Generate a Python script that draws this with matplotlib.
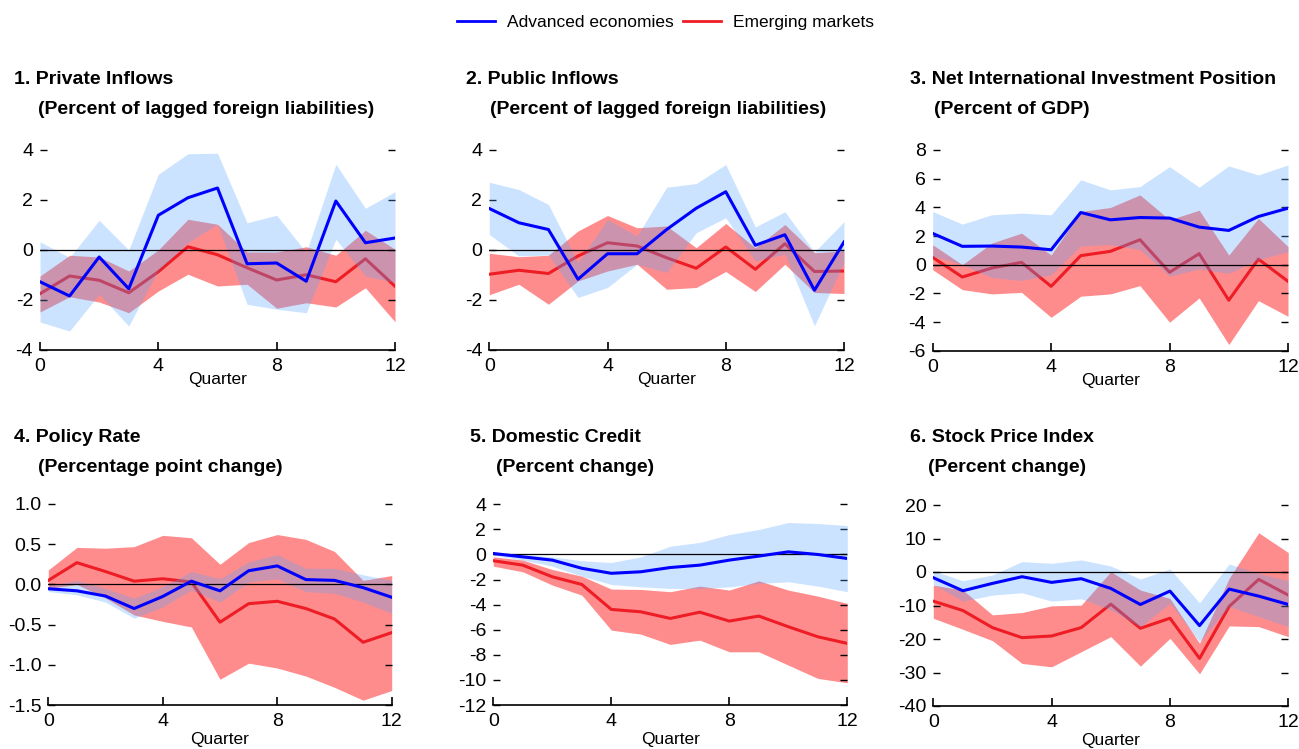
import matplotlib
matplotlib.use('Agg')
import matplotlib.pyplot as plt
from matplotlib.lines import Line2D
from matplotlib.ticker import FuncFormatter

plt.rcParams['font.family'] = ['Liberation Sans', 'DejaVu Sans']
plt.rcParams['axes.unicode_minus'] = False

# ---------------- data ----------------
quarters = list(range(13))
xticks = [0, 4, 8, 12]

# Panel 1: Private inflows
p1_ae = [-1.27, -1.84, -0.28, -1.55, 1.39, 2.09, 2.48, -0.55, -0.52, -1.25, 1.96, 0.29, 0.48]
p1_ae_hi = [0.33, -0.3, 1.19, 0.0, 3.03, 3.85, 3.87, 1.09, 1.39, -0.1, 3.43, 1.67, 2.33]
p1_ae_lo = [-2.88, -3.24, -1.77, -3.04, -0.8, 0.3, 1.03, -2.17, -2.37, -2.51, 0.43, -1.04, -1.3]
p1_em = [-1.75, -1.04, -1.21, -1.71, -0.87, 0.13, -0.19, -0.71, -1.2, -0.99, -1.27, -0.35, -1.45]
p1_em_hi = [-1.04, -0.21, -0.28, -0.84, 0.0, 1.23, 1.03, -0.08, -0.08, 0.13, -0.21, 0.79, 0.03]
p1_em_lo = [-2.48, -1.87, -2.08, -2.51, -1.64, -0.97, -1.44, -1.37, -2.33, -2.11, -2.28, -1.51, -2.87]

# Panel 2: Public inflows
p2_ae = [1.66, 1.09, 0.82, -1.17, -0.15, -0.15, 0.82, 1.67, 2.33, 0.19, 0.61, -1.61, 0.32]
p2_ae_hi = [2.71, 2.42, 1.82, -0.5, 1.22, 0.56, 2.51, 2.66, 3.42, 0.92, 1.53, -0.08, 1.13]
p2_ae_lo = [0.62, -0.24, -0.2, -1.9, -1.5, -0.57, -0.9, 0.69, 1.29, -0.44, -0.17, -3.03, -0.5]
p2_em = [-0.97, -0.81, -0.94, -0.24, 0.29, 0.16, -0.31, -0.73, 0.12, -0.77, 0.25, -0.86, -0.84]
p2_em_hi = [-0.13, -0.27, -0.21, 0.76, 1.38, 0.89, 0.96, 0.09, 1.06, 0.09, 1.02, -0.11, -0.04]
p2_em_lo = [-1.79, -1.37, -2.17, -1.24, -0.84, -0.57, -1.57, -1.5, -0.86, -1.66, -0.57, -1.7, -1.74]

# Panel 3: Net international investment position
p3_ae = [2.18, 1.28, 1.3, 1.23, 1.04, 3.64, 3.13, 3.29, 3.25, 2.62, 2.39, 3.36, 3.94]
p3_ae_hi = [3.71, 2.83, 3.48, 3.6, 3.48, 5.92, 5.22, 5.45, 6.84, 5.41, 6.89, 6.26, 6.96]
p3_ae_lo = [0.6, 0.0, -0.9, -1.1, -0.7, 1.3, 1.4, 1.05, -0.8, -0.3, -0.6, 0.35, 0.9]
p3_em = [0.51, -0.86, -0.23, 0.16, -1.51, 0.63, 0.93, 1.74, -0.53, 0.77, -2.48, 0.39, -1.16]
p3_em_hi = [1.39, 0.0, 1.51, 2.2, 0.67, 3.71, 3.99, 4.87, 3.13, 3.8, 0.67, 3.23, 1.26]
p3_em_lo = [-0.35, -1.74, -2.04, -1.93, -3.67, -2.2, -2.04, -1.46, -4.01, -2.32, -5.57, -2.51, -3.6]

# Panel 4: Policy rate
p4_ae = [-0.054, -0.08, -0.145, -0.3, -0.15, 0.04, -0.08, 0.17, 0.23, 0.06, 0.05, -0.04, -0.16]
p4_ae_hi = [-0.02, 0.05, -0.05, -0.17, -0.03, 0.16, 0.07, 0.28, 0.37, 0.2, 0.2, 0.12, 0.05]
p4_ae_lo = [-0.09, -0.13, -0.22, -0.42, -0.28, -0.07, -0.22, 0.03, 0.07, -0.09, -0.11, -0.22, -0.36]
p4_em = [0.05, 0.27, 0.16, 0.04, 0.07, 0.03, -0.47, -0.24, -0.21, -0.3, -0.43, -0.72, -0.6]
p4_em_hi = [0.18, 0.46, 0.45, 0.47, 0.61, 0.58, 0.25, 0.52, 0.62, 0.56, 0.41, 0.05, 0.11]
p4_em_lo = [-0.05, 0.0, -0.17, -0.38, -0.46, -0.53, -1.18, -0.98, -1.04, -1.14, -1.28, -1.44, -1.32]

# Panel 5: Domestic credit
p5_ae = [0.08, -0.19, -0.45, -1.1, -1.5, -1.38, -1.04, -0.85, -0.45, -0.13, 0.21, 0.0, -0.32]
p5_ae_hi = [0.13, 0.0, -0.19, -0.5, -0.64, -0.19, 0.66, 0.96, 1.59, 1.99, 2.55, 2.47, 2.31]
p5_ae_lo = [-0.05, -0.45, -0.93, -1.73, -2.39, -2.58, -2.71, -2.71, -2.58, -2.31, -2.18, -2.52, -2.97]
p5_em = [-0.5, -0.85, -1.78, -2.39, -4.38, -4.57, -5.1, -4.6, -5.31, -4.91, -5.76, -6.56, -7.09]
p5_em_hi = [-0.19, -0.45, -1.2, -1.73, -2.76, -2.79, -2.97, -2.52, -2.84, -2.1, -2.84, -3.32, -3.9]
p5_em_lo = [-0.93, -1.38, -2.44, -3.24, -6.03, -6.35, -7.17, -6.83, -7.76, -7.76, -8.82, -9.88, -10.23]

# Panel 6: Stock price index
p6_ae = [-1.7, -5.6, -3.4, -1.4, -3.1, -2.0, -4.9, -9.7, -5.7, -16.0, -5.1, -7.2, -9.7]
p6_ae_hi = [0.3, -2.6, -0.9, 3.1, 2.6, 3.6, 1.8, -2.1, 0.9, -9.2, 2.4, -0.4, -2.6]
p6_ae_lo = [-3.7, -8.7, -6.9, -6.2, -8.7, -8.0, -11.3, -16.3, -9.4, -20.8, -10.3, -13.3, -16.3]
p6_em = [-8.7, -11.5, -16.6, -19.6, -19.1, -16.6, -9.6, -16.8, -13.8, -25.8, -10.3, -2.2, -6.9]
p6_em_hi = [-3.9, -5.4, -12.8, -12.1, -10.1, -9.9, 0.1, -5.4, -7.9, -21.3, -1.9, 11.7, 5.8]
p6_em_lo = [-13.8, -17.1, -20.5, -27.3, -28.3, -23.8, -19.3, -28.1, -19.8, -30.4, -16.1, -16.3, -19.3]

titles = [
    ("1. Private Inflows", "(Percent of lagged foreign liabilities)"),
    ("2. Public Inflows", "(Percent of lagged foreign liabilities)"),
    ("3. Net International Investment Position", "(Percent of GDP)"),
    ("4. Policy Rate", "(Percentage point change)"),
    ("5. Domestic Credit", "(Percent change)"),
    ("6. Stock Price Index", "(Percent change)"),
]
series_names = ["Advanced economies", "Emerging markets"]

panels = [
    (p1_ae, p1_ae_lo, p1_ae_hi, p1_em, p1_em_lo, p1_em_hi),
    (p2_ae, p2_ae_lo, p2_ae_hi, p2_em, p2_em_lo, p2_em_hi),
    (p3_ae, p3_ae_lo, p3_ae_hi, p3_em, p3_em_lo, p3_em_hi),
    (p4_ae, p4_ae_lo, p4_ae_hi, p4_em, p4_em_lo, p4_em_hi),
    (p5_ae, p5_ae_lo, p5_ae_hi, p5_em, p5_em_lo, p5_em_hi),
    (p6_ae, p6_ae_lo, p6_ae_hi, p6_em, p6_em_lo, p6_em_hi),
]
ylims = [(-4, 4), (-4, 4), (-6, 8), (-1.5, 1.0), (-12, 4), (-40, 20)]
yticks = [
    [-4, -2, 0, 2, 4],
    [-4, -2, 0, 2, 4],
    [-6, -4, -2, 0, 2, 4, 6, 8],
    [-1.5, -1.0, -0.5, 0.0, 0.5, 1.0],
    [-12, -10, -8, -6, -4, -2, 0, 2, 4],
    [-40, -30, -20, -10, 0, 10, 20],
]
yfmt = ['%d', '%d', '%d', '%.1f', '%d', '%d']

# ---------------- layout (pixels) ----------------
W, H = 1299, 749
boxes = [(40, 395, 150, 350), (489.3, 844, 150, 350), (932.7, 1288, 150, 350.7),
         (48.3, 391.7, 504, 705), (493.3, 847.3, 504.3, 705), (933.3, 1288.3, 505, 706)]
title_pos = [(14, 38, 80, 110), (466, 490, 80, 110), (910, 934, 80, 110),
             (14, 38, 437, 467), (470, 496, 437, 467), (910, 928, 437, 467)]

AE_COL = '#0000ff'
EM_COL = '#ee1c25'
EM_BAND = '#ff8c8c'
AE_BAND = '#55a5ff'

fig = plt.figure(figsize=(W / 100, H / 100), dpi=100)

for i, (box, data) in enumerate(zip(boxes, panels)):
    l, r, t, b = box
    ax = fig.add_axes([l / W, 1 - b / H, (r - l) / W, (b - t) / H])
    ae, ae_lo, ae_hi, em, em_lo, em_hi = data
    ax.fill_between(quarters, em_lo, em_hi, color=EM_BAND, lw=0, zorder=1)
    ax.plot(quarters, em, color=EM_COL, lw=2.2, zorder=2)
    ax.fill_between(quarters, ae_lo, ae_hi, color=AE_BAND, alpha=0.3, lw=0, zorder=3)
    ax.axhline(0, color='black', lw=0.9, zorder=3.5)
    ax.plot(quarters, ae, color=AE_COL, lw=2.2, zorder=4)

    ax.set_xlim(0, 12)
    ax.set_ylim(*ylims[i])
    ax.set_xticks(xticks)
    ax.set_yticks(yticks[i])
    fmt = yfmt[i]
    ax.yaxis.set_major_formatter(FuncFormatter(lambda v, p, f=fmt: f % v))
    for s in ('top', 'left', 'right'):
        ax.spines[s].set_visible(False)
    ax.spines['bottom'].set_linewidth(1.2)
    ax.tick_params(axis='y', direction='in', left=True, right=True, length=5,
                   width=1, labelsize=14, pad=5)
    ax.tick_params(axis='x', direction='in', length=6, width=1.2, labelsize=14, pad=6)
    ax.set_xlabel('Quarter', fontsize=12.5, va='top')
    ax.xaxis.set_label_coords(0.5, -0.11 if i < 3 else -0.135)

    x1, x2, y1, y2 = title_pos[i]
    fig.text(x1 / W, 1 - y1 / H, titles[i][0], fontsize=14, fontweight='bold',
             ha='left', va='center')
    fig.text(x2 / W, 1 - y2 / H, titles[i][1], fontsize=14, fontweight='bold',
             ha='left', va='center')

handles = [Line2D([0], [0], color=AE_COL, lw=2.0), Line2D([0], [0], color=EM_COL, lw=2.0)]
fig.legend(handles, series_names, loc='center', bbox_to_anchor=(665.5 / W, 1 - 22 / H),
           ncol=2, frameon=False, fontsize=12.5, handlelength=2.2,
           handletextpad=0.7, columnspacing=0.5)

fig.savefig('out.png', dpi=100)
